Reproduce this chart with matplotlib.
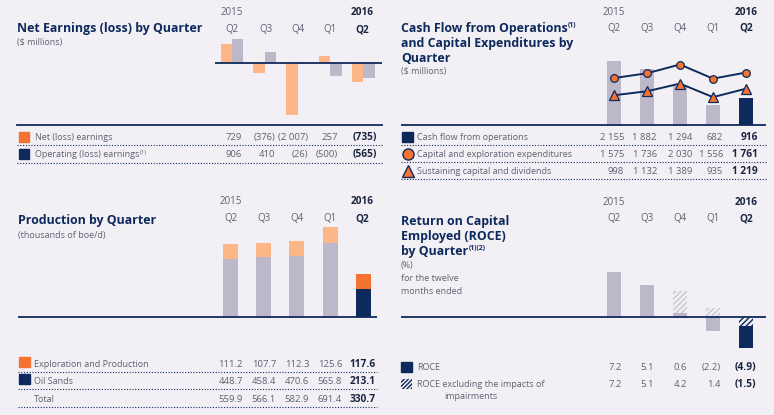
import numpy as np
import matplotlib.pyplot as plt
from matplotlib.patches import Rectangle

plt.rcParams['font.family'] = ['Open Sans', 'DejaVu Sans']
plt.rcParams['hatch.linewidth'] = 1.0

BG = '#f2f0f4'
NAVY = '#0e2a5c'
ORANGE = '#f47332'
LORANGE = '#fdb688'
GRAY = '#bcb8ca'
HATCH_GRAY = '#c9c6d4'
TXT = '#5d6272'
DARK = '#1b2440'

years = ['2015', '2016']
quarters = ['Q2', 'Q3', 'Q4', 'Q1', 'Q2']

# net earnings ($ millions)
net_earnings = [729, -376, -2007, 257, -735]
operating_earnings = [906, 410, -26, -500, -565]

# cash flow ($ millions)
cash_flow_ops = [2155, 1882, 1294, 682, 916]
capex = [1575, 1736, 2030, 1556, 1761]
sustaining = [998, 1132, 1389, 935, 1219]

# production (thousands of boe/d)
exploration_prod = [111.2, 107.7, 112.3, 125.6, 117.6]
oil_sands = [448.7, 458.4, 470.6, 565.8, 213.1]
total_prod = [559.9, 566.1, 582.9, 691.4, 330.7]

# roce (%)
roce = [7.2, 5.1, 0.6, -2.2, -4.9]
roce_excl = [7.2, 5.1, 4.2, 1.4, -1.5]

W, H = 774, 415
fig = plt.figure(figsize=(W / 100, H / 100), dpi=100, facecolor=BG)
bg = fig.add_axes([0, 0, 1, 1])
bg.set_xlim(0, W)
bg.set_ylim(H, 0)
bg.axis('off')


def fmt(v, dec=0):
    s = f'{abs(v):,.{dec}f}'.replace(',', ' ')
    return f'({s})' if v < 0 else s


def chart_ax(x0, x1, y0, y1, c0, step, base, scale):
    # pixel box, first column centre, column step, zero line, px per unit
    ax = fig.add_axes([x0 / W, 1 - y1 / H, (x1 - x0) / W, (y1 - y0) / H])
    ax.set_xlim((x0 - c0) / step, (x1 - c0) / step)
    ax.set_ylim((base - y1) / scale, (base - y0) / scale)
    ax.axis('off')
    ax.axhline(0, color=NAVY, lw=1.3, zorder=5)
    return ax


def header(xs, y_year, y_q):
    bg.text(xs[0], y_year, years[0], ha='center', va='baseline', fontsize=7, color=TXT)
    bg.text(xs[-1], y_year, years[1], ha='center', va='baseline', fontsize=7.2, color=DARK, fontweight='bold')
    for i, q in enumerate(quarters):
        last = i == len(quarters) - 1
        bg.text(xs[i], y_q, q, ha='center', va='baseline', fontsize=7.2 if last else 7,
                color=DARK if last else TXT, fontweight='bold' if last else 'normal')


def values(y, vals, xs, dec=0):
    for i, v in enumerate(vals):
        last = i == len(vals) - 1
        bg.text(xs[i], y, fmt(v, dec), ha='right', va='baseline', fontsize=7.3 if last else 6.8,
                color=DARK if last else TXT, fontweight='bold' if last else 'normal')


def row(y, label, lx, vals, xs, dec=0):
    t = bg.text(lx, y, label, ha='left', va='baseline', fontsize=6.5, color=TXT)
    values(y, vals, xs, dec)
    return t


def dots(x0, x1, y):
    bg.plot([x0, x1], [y, y], ls=(0, (1, 1.5)), color=NAVY, lw=0.8)


def title(x, y, lines):
    ts = []
    for k, ln in enumerate(lines):
        ts.append(bg.text(x, y + k * 15, ln, ha='left', va='baseline', fontsize=8.9,
                          fontweight='bold', color=NAVY))
    return ts


def sup(t, s, bold=True):
    bg.annotate(s, xy=(1, 1), xycoords=t, xytext=(0.3, -0.3), textcoords='offset points',
                ha='left', va='top', fontsize=5 if bold else 4.3,
                fontweight='bold' if bold else 'normal', color=NAVY if bold else TXT)


x = np.arange(5)

# ---------- Net earnings ----------
title(17, 32, ['Net Earnings (loss) by Quarter'])
bg.text(17, 45, '($ millions)', fontsize=6.5, color=TXT, va='baseline')
header([232, 265.5, 298, 330.5, 362], 15, 32)
ax1 = chart_ax(215, 382, 30, 122, 232, 32.8, 63, 0.026)
ax1.bar(x - 0.175, net_earnings, 0.35, color=LORANGE)
ax1.bar(x + 0.175, operating_earnings, 0.35, color=GRAY)
bg.plot([17, 382], [125.5, 125.5], color=NAVY, lw=1.3)
bg.add_patch(Rectangle((19, 132), 10, 10, color=ORANGE))
bg.add_patch(Rectangle((19, 149), 10, 10, color=NAVY))
vx1 = [242, 275, 308, 338, 377]
row(140, 'Net (loss) earnings', 35, net_earnings, vx1)
t = row(157, 'Operating (loss) earnings', 35, operating_earnings, vx1)
sup(t, '(1)', bold=False)
dots(17, 382, 145.5)
dots(17, 382, 163)

# ---------- Cash flow ----------
ts = title(401, 32, ['Cash Flow from Operations', 'and Capital Expenditures by', 'Quarter'])
sup(ts[0], '(1)')
bg.text(401, 74, '($ millions)', fontsize=6.5, color=TXT, va='baseline')
header([614, 647, 680.5, 713, 746], 15, 31)
ax2 = chart_ax(401, 766, 45, 130, 614, 33, 125, 0.0298)
ax2.bar(x, cash_flow_ops, 0.42, color=[GRAY] * 4 + [NAVY])
ax2.plot(x, capex, color=NAVY, lw=1.4, marker='o', ms=5.5, mfc=ORANGE, mec=NAVY, mew=0.9, zorder=4)
ax2.plot(x, sustaining, color=NAVY, lw=1.4, marker='^', ms=7, mfc=ORANGE, mec=NAVY, mew=0.9, zorder=4)
bg.add_patch(Rectangle((402, 132), 11, 10, color=NAVY))
bg.plot(407.5, 154, 'o', ms=8, mfc=ORANGE, mec=NAVY, mew=1)
bg.plot(407.5, 171, '^', ms=8.5, mfc=ORANGE, mec=NAVY, mew=1)
vx2 = [624, 657, 692, 723, 758]
row(140, 'Cash flow from operations', 417, cash_flow_ops, vx2)
row(157, 'Capital and exploration expenditures', 417, capex, vx2)
row(174, 'Sustaining capital and dividends', 417, sustaining, vx2)
dots(401, 766, 145.5)
dots(401, 766, 162.5)
dots(401, 766, 179.5)

# ---------- Production ----------
title(18, 224, ['Production by Quarter'])
bg.text(18, 238, '(thousands of boe/d)', fontsize=6.5, color=TXT, va='baseline')
header([230.5, 263.5, 297, 329.5, 362.5], 204, 221)
ax3 = chart_ax(18, 377, 215, 322, 230.5, 33.2, 317, 0.13)
ax3.bar(x, oil_sands, 0.45, color=[GRAY] * 4 + [NAVY])
ax3.bar(x, exploration_prod, 0.45, bottom=oil_sands, color=[LORANGE] * 4 + [ORANGE])
bg.add_patch(Rectangle((19, 357), 10.5, 10, color=ORANGE))
bg.add_patch(Rectangle((19, 374), 10.5, 10, color=NAVY))
vx3 = [243, 276, 309, 342, 376]
row(367, 'Exploration and Production', 33.5, exploration_prod, vx3, 1)
row(384, 'Oil Sands', 33.5, oil_sands, vx3, 1)
row(402, 'Total', 33.5, total_prod, vx3, 1)
dots(18, 377, 372)
dots(18, 377, 389)
dots(18, 377, 406.5)

# ---------- ROCE ----------
ts = title(401, 225, ['Return on Capital', 'Employed (ROCE)', 'by Quarter'])
sup(ts[-1], '(1)(2)')
for k, s in enumerate(['(%)', 'for the twelve', 'months ended']):
    bg.text(401, 268 + k * 13, s, fontsize=6.5, color=TXT, va='baseline')
header([614, 647, 680.5, 713, 746], 205, 221)
ax4 = chart_ax(401, 766, 262, 355, 614, 33, 317, 6.25)
for i in range(5):
    last = i == 4
    ax4.bar(i, roce_excl[i], 0.42, color=BG, edgecolor=NAVY if last else HATCH_GRAY,
            lw=0, hatch='//////', zorder=3 if last else 1)
    ax4.bar(i, roce[i], 0.42, color=NAVY if last else GRAY, zorder=2)
bg.add_patch(Rectangle((401, 362), 11, 10, color=NAVY))
bg.add_patch(Rectangle((401, 379), 11, 10, facecolor=BG, edgecolor=NAVY, lw=0, hatch='////////'))
vx4 = [622, 654, 687, 721, 756]
row(370, 'ROCE', 417, roce, vx4, 1)
row(387, 'ROCE excluding the impacts of', 417, roce_excl, vx4, 1)
bg.text(444, 399, 'impairments', fontsize=6.5, color=TXT, va='baseline')

fig.savefig('out.png', dpi=100, facecolor=BG)
